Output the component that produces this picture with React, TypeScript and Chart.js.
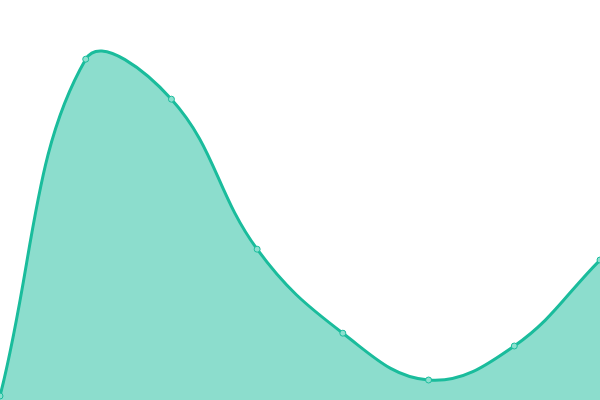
import React, { useRef, useEffect } from "react";
import Chart, { ChartConfiguration } from "chart.js/auto";

const labels = ["1", "2", "3", "4", "5", "6", "7", "8"];
const values = [1, 85.2, 75.2, 37.7, 16.7, 5, 13.5, 35];

const App = () => {
  const chartRef = useRef<HTMLCanvasElement>(null);
  const chartInstanceRef = useRef<Chart>();

  useEffect(() => {
    document.body.style.margin = "0";
    const ctx = chartRef.current!.getContext("2d");

    if (chartInstanceRef.current) {
      chartInstanceRef.current.destroy();
    }

    const config: ChartConfiguration<"line"> = {
      type: "line",
      data: {
        labels,
        datasets: [
          {
            data: values,
            fill: true,
            tension: 0.4,
            borderColor: "#1abc9c",
            backgroundColor: "rgba(26, 188, 156, 0.5)",
            borderWidth: 3,
            pointRadius: 3,
            pointBorderWidth: 1,
            pointBackgroundColor: "#8be0cf",
            pointBorderColor: "#1abc9c",
          },
        ],
      },
      options: {
        animation: false,
        responsive: false,
        layout: { padding: 0, autoPadding: false },
        plugins: {
          legend: { display: false },
          tooltip: { enabled: false },
        },
        scales: {
          x: { display: false },
          y: { display: false, min: 0, max: 100 },
        },
      },
    };

    if (ctx) {
      chartInstanceRef.current = new Chart(ctx, config);
    }

    return () => {
      if (chartInstanceRef.current) {
        chartInstanceRef.current.destroy();
      }
    };
  }, []);

  return (
    <div style={{ width: "600px", height: "400px", background: "#fff" }}>
      <canvas ref={chartRef} width={600} height={400} />
    </div>
  );
};

export default App;
